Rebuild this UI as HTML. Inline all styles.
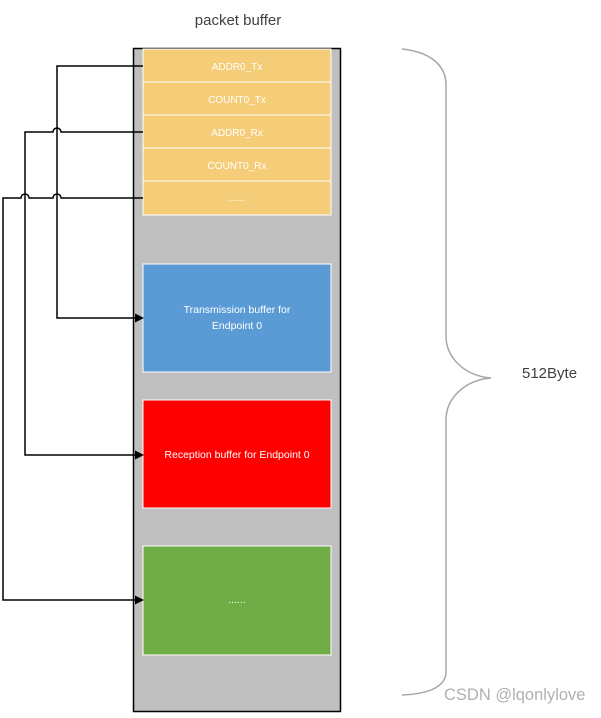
<!DOCTYPE html>
<html><head><style>
body{margin:0;width:601px;height:713px;background:#fff;overflow:hidden;font-family:"Liberation Sans",sans-serif;}
</style></head><body>
<svg width="601" height="713" xmlns="http://www.w3.org/2000/svg" font-family="Liberation Sans, sans-serif">
<text x="238" y="25" font-size="15" fill="#404040" text-anchor="middle">packet buffer</text>
<rect x="133.5" y="48.5" width="207" height="663" fill="#bfbfbf" stroke="#000" stroke-width="1.5"/>
<g fill="#f5cc77" stroke="#fff" stroke-width="1">
<rect x="143" y="49" width="188" height="33"/>
<rect x="143" y="82" width="188" height="33"/>
<rect x="143" y="115" width="188" height="33"/>
<rect x="143" y="148" width="188" height="33"/>
<rect x="143" y="181" width="188" height="34"/>
</g>
<g fill="#fff" font-size="10" text-anchor="middle">
<text x="237" y="70">ADDR0_Tx</text>
<text x="237" y="103">COUNT0_Tx</text>
<text x="237" y="136">ADDR0_Rx</text>
<text x="237" y="169">COUNT0_Rx</text>
<text x="237" y="201">......</text>
</g>
<rect x="143" y="264" width="188" height="108" fill="#5b9bd5" stroke="#fff"/>
<text x="237" y="313" fill="#fff" font-size="10.5" text-anchor="middle">Transmission buffer for</text>
<text x="237" y="329" fill="#fff" font-size="10.5" text-anchor="middle">Endpoint 0</text>
<rect x="143" y="400" width="188" height="108" fill="#ff0000" stroke="#fff"/>
<text x="237" y="458" fill="#fff" font-size="10.5" text-anchor="middle">Reception buffer for Endpoint 0</text>
<rect x="143" y="546" width="188" height="109" fill="#70ad47" stroke="#fff"/>
<text x="237" y="603" fill="#fff" font-size="10.5" text-anchor="middle">......</text>
<g fill="none" stroke="#000" stroke-width="1.5">
<path d="M143 66 H57 V318 H136"/>
<path d="M143 132 H61 A4 4 0 0 0 53 132 H25 V455 H136"/>
<path d="M143 198 H61 A4 4 0 0 0 53 198 H29 A4 4 0 0 0 21 198 H3 V600 H136"/>
</g>
<g fill="#000">
<path d="M144 318 L135 313.5 L135 322.5 Z"/>
<path d="M144 455 L135 450.5 L135 459.5 Z"/>
<path d="M144 600 L135 595.5 L135 604.5 Z"/>
</g>
<path d="M402 49 C430 52 446 65 446 85 V336 C446 358 465 376 491 378 C465 380 446 398 446 420 V672 C446 686 430 694 402 695" fill="none" stroke="#a6a6a6" stroke-width="1.5"/>
<text x="522" y="378" font-size="15" fill="#404040">512Byte</text>
<text x="444" y="700" font-size="16.5" fill="#b0b0b0">CSDN @lqonlylove</text>
</svg>
</body></html>
